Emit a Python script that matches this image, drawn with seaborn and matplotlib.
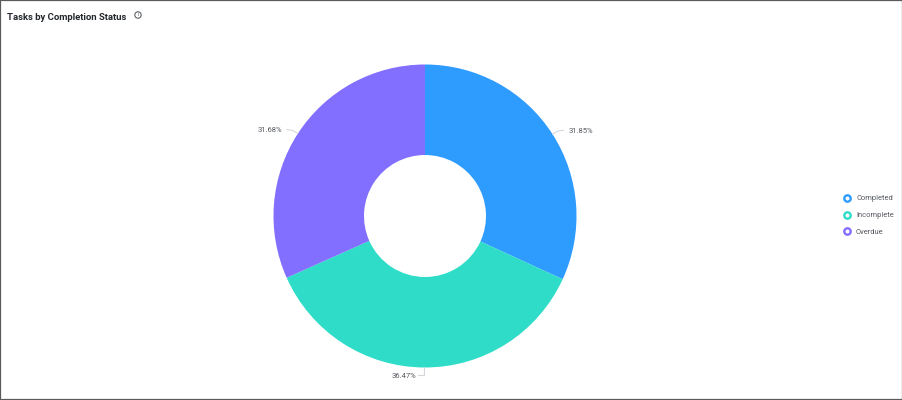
"""Donut chart of tasks by completion status."""

import matplotlib.pyplot as plt
import numpy as np
import seaborn as sns
from matplotlib.lines import Line2D
from matplotlib.patches import Circle, Rectangle

statuses = ["Completed", "Incomplete", "Overdue"]
shares = [31.85, 36.47, 31.68]
colors = ["#2e9bff", "#2edcc8", "#826eff"]
title = "Tasks by Completion Status"

sns.set_theme(style="white")
plt.rcParams["font.family"] = ["Roboto", "DejaVu Sans"]

fig = plt.figure(figsize=(9.03, 4.0), dpi=100)
ax = fig.add_axes([0, 0, 1, 1])

center = (425, 184)
radius = 151.5
wedges, _ = ax.pie(
    shares,
    colors=colors,
    startangle=90,
    counterclock=False,
    center=center,
    radius=radius,
    wedgeprops={"width": radius - 61, "linewidth": 0},
    frame=True,
)
ax.set_xlim(0, 903)
ax.set_ylim(0, 400)
ax.axis("off")

# Percent labels with short leader lines
for wedge, share in zip(wedges, shares):
    mid = np.deg2rad((wedge.theta1 + wedge.theta2) / 2)
    dx, dy = np.cos(mid), np.sin(mid)
    x0 = center[0] + radius * dx
    y0 = center[1] + radius * dy
    if abs(dx) < 0.1:
        # bottom slice: leader drops down then runs left
        xs = [x0, x0, x0 - 6]
        ys = [y0, y0 - 8, y0 - 8]
        ha = "right"
        offset = -2
        text_y = ys[-1] - 1
    else:
        sign = 1 if dx > 0 else -1
        xs = [x0, x0 + sign * 5, x0 + sign * 11]
        ys = [y0, y0 + 3, y0 + 4]
        ha = "left" if dx > 0 else "right"
        offset = sign * 5
        text_y = ys[-1] - 1 if dx > 0 else ys[-1]
    ax.plot(xs, ys, color="#d4d8dc", lw=0.8, solid_capstyle="round")
    ax.text(
        xs[-1] + offset,
        text_y,
        f"{share:.2f}%",
        ha=ha,
        va="center",
        fontsize=5.5,
        color="#55595f",
    )

# Title and info icon
ax.text(7, 383, title, fontsize=6.8, fontweight="bold", color="#23272c", va="center")
ax.add_patch(Circle((138, 385), 3.2, facecolor="none", edgecolor="#5f6368", lw=0.8))
ax.text(138, 385, "i", fontsize=3.8, color="#5f6368", ha="center", va="center")

# Legend with ring markers
handles = [
    Line2D(
        [],
        [],
        linestyle="none",
        marker="o",
        markersize=4.6,
        markerfacecolor="white",
        markeredgecolor=color,
        markeredgewidth=1.7,
        label=status,
    )
    for status, color in zip(statuses, colors)
]
ax.legend(
    handles=handles,
    loc="center left",
    bbox_to_anchor=(843.5 / 903, 184.5 / 400),
    bbox_transform=fig.transFigure,
    frameon=False,
    fontsize=5.4,
    labelcolor="#55595f",
    handletextpad=0.67,
    labelspacing=1.27,
    borderpad=0,
    borderaxespad=0,
    handlelength=1.0,
)

# Thin dark frame around the card
fig.add_artist(
    Rectangle(
        (0, 0),
        1,
        1,
        transform=fig.transFigure,
        fill=False,
        edgecolor="#5a5a5a",
        lw=1.6,
    )
)

fig.savefig("out.png", dpi=100, facecolor="white")
plt.close(fig)
